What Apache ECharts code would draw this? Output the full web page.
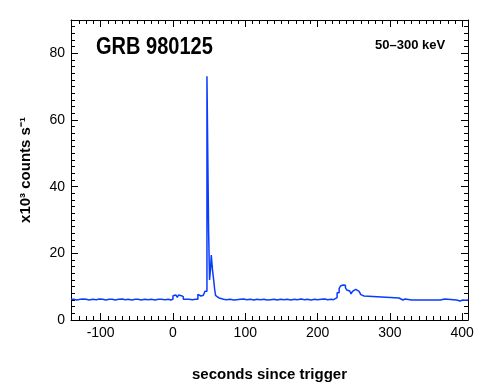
<!DOCTYPE html>
<html>
<head>
<meta charset="utf-8">
<script src="https://cdn.jsdelivr.net/npm/echarts@6/dist/echarts.min.js"></script>
<style>
  html, body { margin: 0; padding: 0; background: #fff; }
  #chart { width: 490px; height: 390px; }
</style>
</head>
<body>
<div id="chart"></div>
<script>
// ---- data (bin start times in s, rate in 10^3 counts/s) ----
var preTimes  = [-141, -137, -133, -128, -124, -120, -116, -111, -106, -102, -97, -93, -88, -84, -80, -75, -70, -66, -62, -57, -52, -48, -44, -39, -34, -30, -25, -20, -16, -11, -6, -3];
var preRates  = [6.2, 6.0, 6.2, 6.3, 6.2, 6.0, 6.2, 6.1, 6.3, 6.2, 6.0, 6.2, 6.2, 6.0, 6.2, 6.3, 6.1, 6.2, 6.0, 6.2, 6.2, 6.0, 6.2, 6.1, 6.2, 6.0, 6.2, 6.2, 6.1, 6.2, 6.0, 6.2];

var precTimes = [0, 2, 4, 6, 7.8, 10, 11.5, 14.3, 18, 22, 27, 31, 34.5, 37, 38.7, 42, 44.2];
var precRates = [7.3, 7.5, 7.1, 6.8, 7.5, 7.3, 7.0, 6.2, 6.2, 6.1, 6.2, 6.2, 7.7, 7.2, 7.4, 7.5, 8.6];

var peakTimes = [47.0, 49.3, 50.6, 52.0, 53.0, 54.6, 56.2, 57.6, 58.9, 60.4, 61.7];
var peakRates = [73.1, 26.6, 12.0, 15.5, 19.5, 15.2, 12.2, 9.3, 7.4, 6.9, 6.5];

var midTimes  = [64.9, 70, 74, 79, 84, 88, 93, 98, 102, 107, 112, 116, 121, 126, 130, 135, 140, 144, 149, 154, 158, 163, 168, 172, 177, 182, 186, 191, 196, 200, 205, 210, 214, 219, 222];
var midRates  = [6.2, 6.1, 6.2, 6.0, 6.1, 6.2, 6.3, 6.1, 6.2, 6.0, 6.2, 6.1, 6.2, 6.0, 6.1, 6.2, 6.0, 6.2, 6.1, 6.2, 6.0, 6.2, 6.1, 6.3, 6.1, 6.2, 6.0, 6.2, 6.1, 6.2, 6.3, 6.1, 6.2, 6.1, 6.3];

var bumpTimes = [224.5, 227, 229.8, 231.6, 233.4, 235.3, 238.5, 240.3, 242.7, 244.5, 246.3, 248.2, 250.5, 252.8, 255.1, 257.4, 259.7, 262, 264.2, 266.6];
var bumpRates = [6.7, 8.2, 9.4, 10.2, 10.5, 10.4, 9.7, 9.0, 8.7, 8.2, 7.8, 8.6, 9.2, 9.0, 8.6, 8.0, 7.6, 7.2, 6.9, 6.6];

var postTimes = [312.6, 318, 321, 330, 332, 345, 347, 370, 376, 392, 397, 401, 404];
var postRates = [6.0, 6.3, 6.0, 6.3, 6.0, 5.8, 6.0, 6.3, 6.0, 5.7, 6.0, 5.9, 6.0];

var endTime = 408;

// ---- axis ticks ----
var xMajorTicks = [-100, 0, 100, 200, 300, 400];
var xMinorTicks = [-140, -130, -120, -110, -90, -80, -70, -60, -50, -40, -30, -20, -10, 10, 20, 30, 40, 50, 60, 70, 80, 90, 110, 120, 130, 140, 150, 160, 170, 180, 190, 210, 220, 230, 240, 250, 260, 270, 280, 290, 310, 320, 330, 340, 350, 360, 370, 380, 390];
var yMajorTicks = [0, 20, 40, 60, 80];
var yMinorTicks = [2, 4, 6, 8, 10, 12, 14, 16, 18, 22, 24, 26, 28, 30, 32, 34, 36, 38, 42, 44, 46, 48, 50, 52, 54, 56, 58, 62, 64, 66, 68, 70, 72, 74, 76, 78, 82, 84, 86, 88];

var xMin = -141, xMax = 408, yMin = 0, yMax = 90;

// ---- build histogram (step) outline: each bin drawn from its start to the next bin start ----
var times = [].concat(preTimes, precTimes, peakTimes, midTimes, bumpTimes, postTimes);
var rates = [].concat(preRates, precRates, peakRates, midRates, bumpRates, postRates);
var seriesData = [];
for (var i = 0; i < times.length; i++) {
  var tEnd = (i + 1 < times.length) ? times[i + 1] : endTime;
  seriesData.push([times[i], rates[i]]);
  seriesData.push([tEnd, rates[i]]);
}

var FONT = 'Liberation Sans';
var lineCol = '#000';

function xAx(pos, major, withLabel, extra) {
  var ax = {
    type: 'value', position: pos, min: xMin, max: xMax,
    axisLine: { show: major, onZero: false, lineStyle: { color: lineCol, width: 1 } },
    axisTick: { show: true, inside: true, length: major ? 7 : 4,
      customValues: major ? xMajorTicks : xMinorTicks,
      lineStyle: { color: lineCol, width: 1 } },
    axisLabel: { show: withLabel, customValues: xMajorTicks, margin: 6,
      color: '#000', fontFamily: FONT, fontSize: 14 },
    splitLine: { show: false }
  };
  return Object.assign(ax, extra || {});
}
function yAx(pos, major, withLabel, extra) {
  var ax = {
    type: 'value', position: pos, min: yMin, max: yMax,
    axisLine: { show: major, onZero: false, lineStyle: { color: lineCol, width: 1 } },
    axisTick: { show: true, inside: true, length: major ? 7 : 4,
      customValues: major ? yMajorTicks : yMinorTicks,
      lineStyle: { color: lineCol, width: 1 } },
    axisLabel: { show: withLabel, customValues: yMajorTicks, margin: 6,
      color: '#000', fontFamily: FONT, fontSize: 14 },
    splitLine: { show: false }
  };
  return Object.assign(ax, extra || {});
}

var chart = echarts.init(document.getElementById('chart'), null, { renderer: 'canvas' });
chart.setOption({
  animation: false,
  backgroundColor: '#fff',
  grid: { left: 71, right: 22, top: 20, bottom: 70, containLabel: false },
  xAxis: [
    xAx('bottom', true, true, {
      name: 'seconds since trigger', nameLocation: 'middle', nameGap: 47,
      nameTextStyle: { color: '#000', fontFamily: FONT, fontSize: 15, fontWeight: 'bold' }
    }),
    xAx('bottom', false, false),
    xAx('top', true, false),
    xAx('top', false, false)
  ],
  yAxis: [
    yAx('left', true, true, {
      name: 'x10\u00B3 counts s\u207B\u00B9', nameLocation: 'middle', nameGap: 38, nameRotate: 90,
      nameTextStyle: { color: '#000', fontFamily: FONT, fontSize: 15, fontWeight: 'bold' }
    }),
    yAx('left', false, false),
    yAx('right', true, false),
    yAx('right', false, false)
  ],
  graphic: [
    { type: 'text', left: 96, top: 36, scaleX: 0.87, originX: 0,
      style: { text: 'GRB 980125', fontFamily: FONT, fontSize: 23, fontWeight: 'bold', fill: '#000' } },
    { type: 'text', left: 375, top: 39,
      style: { text: '50\u2013300 keV', fontFamily: FONT, fontSize: 13, fontWeight: 'bold', fill: '#000' } }
  ],
  series: [{
    type: 'line', xAxisIndex: 0, yAxisIndex: 0,
    data: seriesData, showSymbol: false, symbol: 'none', clip: true,
    lineStyle: { color: '#0a3cff', width: 1.5 }
  }]
});
</script>
</body>
</html>
